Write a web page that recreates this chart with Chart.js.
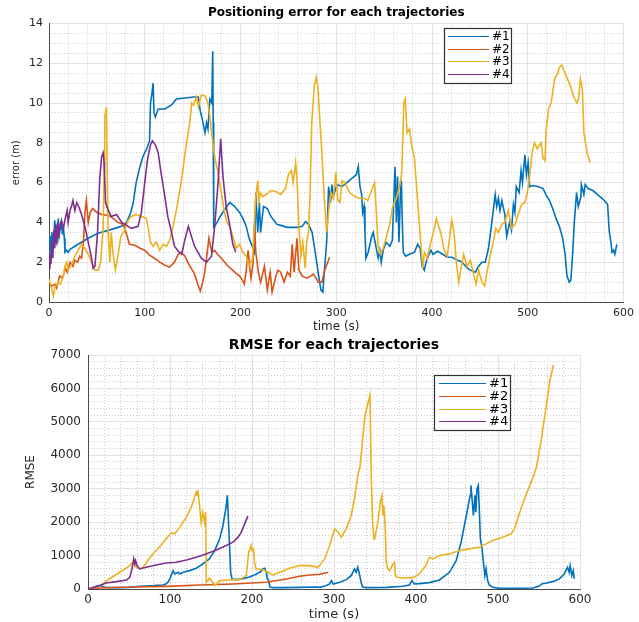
<!DOCTYPE html>
<html>
<head>
<meta charset="utf-8">
<title>Positioning error and RMSE for each trajectory</title>
<script src="https://cdn.jsdelivr.net/npm/chart.js@4.4.1/dist/chart.umd.min.js"></script>
<style>
  body { margin: 0; background: #fff; }
  canvas { display: block; }
</style>
</head>
<body>
<canvas id="errChart" width="639" height="336"></canvas>
<canvas id="rmseChart" width="639" height="286"></canvas>
<script>
'use strict';

const labels = ['#1', '#2', '#3', '#4'];
const colors = ['#0072BD', '#D95319', '#EDB120', '#7E2F8E'];

const timeTicks = [0, 100, 200, 300, 400, 500, 600];
const errTicks = [0, 2, 4, 6, 8, 10, 12, 14];
const rmseTicks = [0, 1000, 2000, 3000, 4000, 5000, 6000, 7000];

// positioning error [time (s), error (m)]
const err1 = [[0,2.2],[1,3.3],[2,2.6],[3,3.5],[4.5,2.6],[6,4.1],[7,3.2],[8,3.0],[9.7,4.2],[10.5,3.3],[11.5,3.6],[13,4.0],[14,3.4],[15,3.8],[16,3.2],[16.7,2.5],[18.4,2.6],[20,2.5],[22,2.65],[27,2.8],[34,3.0],[41,3.2],[51,3.45],[62,3.6],[72,3.75],[78,3.85],[81,4.0],[85.4,4.5],[88,5.0],[91,6.0],[95,6.8],[98,7.3],[102,7.7],[105,8.1],[106,10.0],[107.6,10.5],[108.7,11.0],[109.7,9.5],[111,9.3],[114,9.7],[121,9.7],[128,9.9],[133,10.2],[142,10.25],[151,10.3],[156,10.3],[158,9.6],[160,9.2],[162.9,8.5],[164.6,9.0],[166,8.7],[168,10.2],[170,10.0],[171,12.6],[171.5,9.0],[172,3.75],[173,3.8],[176.6,4.1],[180,4.4],[185,4.75],[188.7,5.0],[194,4.8],[199,4.5],[202.5,4.2],[206,3.8],[209,3.2],[213,2.7],[214.5,2.5],[216,5.5],[218,3.5],[219.7,5.0],[221,3.5],[224,4.8],[228,4.7],[231.7,4.3],[235,4.1],[238,3.9],[242,3.85],[249,3.75],[259,3.75],[264.5,3.8],[268,4.05],[271,3.9],[274.8,3.5],[278,2.5],[281.7,1.3],[284,0.6],[286,0.5],[287.5,1.5],[290,3.0],[292,5.8],[294,5.0],[295.5,5.9],[297,5.3],[300.7,5.9],[306,5.8],[311,6.0],[316,6.2],[321,6.4],[323,6.8],[324.8,5.8],[326.5,5.4],[327.6,4.5],[329,4.8],[330,3.5],[331,2.2],[333.4,2.5],[337,3.3],[338.6,3.5],[341,2.9],[343.8,2.2],[345.5,2.6],[347,2.0],[349,2.6],[352,3.0],[355.9,2.8],[358.6,3.1],[360,5.0],[361.4,6.8],[362.8,4.0],[364,6.3],[365.5,3.0],[367,5.5],[368,6.1],[369,4.0],[370,2.5],[372.4,2.3],[376.6,2.4],[381.7,2.5],[385,2.9],[387.6,2.7],[389.7,1.8],[392,1.6],[393.8,2.0],[397,2.4],[399,2.6],[401,2.4],[406,2.55],[411,2.4],[416,2.25],[421,2.25],[426.6,2.1],[430,2.05],[433.4,1.9],[437,1.7],[440,1.6],[445.5,1.5],[448,1.75],[452,2.0],[455.6,2.0],[459,2.7],[462.5,4.0],[464,4.6],[466,5.4],[467.6,4.8],[469.4,5.2],[471,4.6],[473,5.1],[476,4.4],[478,3.3],[481,4.0],[483,3.6],[485,4.9],[486.6,4.5],[488,5.8],[491,5.5],[493,6.6],[494.5,6.0],[497,7.4],[498.6,6.4],[500.4,7.0],[502,5.8],[505.5,5.85],[510.5,5.8],[516,5.7],[519,5.4],[522.7,5.1],[526,4.7],[529.5,4.2],[533,3.8],[536.5,3.2],[539,2.4],[541,1.3],[543.4,1.0],[545,1.1],[547,2.5],[548.6,4.0],[551,5.5],[552.8,4.8],[555.5,5.3],[556,5.9],[558.6,5.4],[560,5.9],[563,5.7],[568,5.6],[573,5.4],[580,5.1],[583.4,4.9],[585,3.6],[586.9,3.0],[588,2.5],[589.6,2.6],[591,2.4],[593,2.9]];
const err2 = [[0,1.0],[1,1.0],[3,0.8],[6,0.9],[8,0.7],[11,1.3],[14,1.2],[17,1.7],[19,1.5],[22,2.0],[25,1.8],[27,2.1],[30,2.0],[32,2.3],[34,2.2],[36,3.0],[37.5,4.5],[39,5.1],[41,4.0],[43,4.5],[45.5,4.7],[50,4.5],[55,4.4],[62,4.35],[67,4.2],[72,4.0],[77.5,3.9],[81,3.4],[84,2.9],[89.5,2.85],[95,2.7],[100,2.6],[105,2.35],[110,2.2],[115.6,2.0],[121,1.85],[126,1.75],[131,2.0],[135,2.4],[138,2.5],[142,2.3],[147,1.8],[151,1.5],[153,1.25],[156,0.8],[158,0.55],[160,0.9],[162,1.3],[164,2.0],[167,3.2],[170,2.5],[173,2.6],[176,2.4],[180,2.2],[187,1.8],[194,1.5],[199,1.3],[202,1.1],[204,0.9],[206,1.6],[208,2.6],[210,1.6],[211,1.2],[213,1.9],[214.5,3.9],[216,2.5],[218.6,1.5],[221,1.0],[225,1.8],[228,0.6],[231,1.5],[233,0.5],[237,1.3],[239,1.6],[242,1.5],[245.5,1.0],[249,1.5],[252,1.3],[254,2.9],[256,1.5],[259,3.2],[261,1.6],[264.5,1.3],[269.5,1.2],[273,1.3],[276,1.4],[279,1.2],[281,1.0],[285,1.0],[288,1.6],[293,2.25]];
const err3 = [[0,1.15],[2,0.8],[4.5,0.3],[6,0.7],[9.7,1.0],[12,0.9],[15,1.3],[16.7,1.8],[18.4,2.0],[20,1.6],[23.6,1.9],[27,2.3],[30.5,2.6],[34,2.9],[37.5,2.7],[41,2.4],[44.4,2.0],[48,1.6],[51.4,1.6],[54,2.0],[56.6,3.8],[57.6,7.0],[58.3,9.3],[60,9.8],[61,6.0],[61.8,3.5],[63.5,2.0],[65,3.5],[67,2.4],[69.4,1.6],[72,2.3],[75,3.3],[79,3.6],[82.6,4.1],[86,4.3],[91,4.4],[96.5,4.3],[101.7,4.2],[104,3.6],[106,3.0],[108.7,2.8],[112,3.0],[115.6,2.6],[119,2.9],[122.6,2.8],[126,3.1],[129.5,3.8],[133,4.6],[138,6.0],[143,7.8],[147,9.0],[149,10.0],[151,9.9],[154,10.3],[156,9.8],[159,10.4],[163,10.35],[166,10.0],[168,9.3],[169.8,8.5],[173,7.3],[176.6,6.5],[180,5.5],[183.3,4.5],[186,4.0],[188.7,3.8],[192,3.3],[195.6,2.7],[199,2.9],[202.5,2.5],[206,2.3],[209,1.8],[212.7,2.2],[214.5,4.0],[216,5.3],[218,6.1],[219,5.0],[220.7,5.5],[223,5.3],[226.6,5.4],[231.7,5.6],[237,5.55],[242,5.4],[247,5.7],[250,6.4],[253,6.6],[255,6.0],[257.6,7.0],[259,6.2],[261,3.8],[263,2.3],[265,3.0],[267.6,1.7],[269,3.0],[271,3.5],[272.7,5.5],[274.4,9.0],[277,10.8],[279,11.3],[280.9,10.8],[283,9.0],[285,7.5],[286.8,5.8],[288.5,4.5],[290,3.5],[292,4.5],[294.4,5.5],[297,5.2],[299.6,6.5],[301.7,5.1],[304,5.0],[306,6.1],[309,6.0],[314,5.5],[319.5,5.3],[324.7,5.2],[330,5.2],[333,5.1],[336.8,5.6],[340,6.0],[341.9,4.5],[343.7,2.8],[346,2.4],[349,2.7],[352,3.2],[355.7,3.9],[359,4.8],[362.6,5.2],[366,5.8],[368.5,6.5],[370.5,10.0],[372,10.2],[374,8.5],[376.5,8.7],[379,7.8],[381.7,7.2],[384.3,5.5],[386.7,4.0],[389,2.5],[390.5,1.7],[392,2.5],[395,2.2],[398.8,3.0],[402,3.6],[404.5,4.2],[409,3.5],[412.7,2.6],[416,2.3],[419,3.5],[420.5,4.1],[423,3.5],[425.6,1.9],[428,1.0],[429.7,1.5],[433,2.4],[436.6,1.8],[440,2.1],[443.4,1.4],[446,0.9],[448.8,1.6],[452,1.0],[455,0.8],[457.4,1.5],[461,2.4],[464,3.0],[466.5,3.7],[469.4,3.5],[473,3.9],[476,4.0],[479.6,4.6],[483,3.7],[486.6,3.9],[490,4.4],[493.5,4.9],[497,5.0],[499.6,5.5],[502,6.3],[504.5,7.5],[507,8.0],[510,7.7],[512.5,7.9],[514,8.0],[516,7.2],[518,7.1],[519,8.5],[521.7,9.7],[524.4,10.0],[528,11.2],[531.4,11.5],[533,11.8],[535.5,11.9],[538,11.6],[541.6,11.2],[545,10.8],[548,10.3],[551.5,10.0],[553,10.2],[555,11.2],[557,10.7],[558.6,8.5],[562,7.5],[565,7.0]];
const err4 = [[0,1.7],[1,2.4],[2,1.9],[3,3.0],[4,2.2],[5,3.6],[6,2.7],[7,3.9],[8,2.9],[9,4.0],[10,3.2],[11,3.8],[13,4.1],[15,3.7],[17,4.2],[19,4.6],[20,4.0],[22,4.6],[24,4.9],[25,5.1],[27,4.6],[29,5.0],[31,4.8],[34,4.4],[37.5,3.8],[41,3.0],[44.5,2.2],[46,1.7],[48,1.8],[50.7,3.5],[53,6.2],[55,7.3],[56.6,7.5],[57.5,7.0],[58,6.5],[59,5.0],[62,4.6],[65,4.3],[70.5,4.4],[76,4.0],[81,3.85],[86,3.7],[93,3.8],[96.5,4.5],[100,6.0],[103,7.2],[106,7.9],[108,8.1],[111,7.9],[114,7.5],[117,6.5],[121,5.3],[124,4.3],[128,3.5],[131,2.8],[135,2.55],[138.6,2.4],[141.7,3.1],[145.5,3.8],[152,2.8],[159,2.2],[164.5,2.0],[169.7,2.3],[173,3.8],[176.6,6.0],[179.3,8.2],[181.7,6.3],[185,4.8],[188.6,3.9],[192,2.9],[195,2.5]];

// RMSE [time (s), RMSE]
const rmse1 = [[0,0],[5,40],[10,80],[14,110],[17,90],[20,50],[25,40],[35,40],[50,50],[63,80],[80,100],[91,120],[95,150],[97.5,200],[100,320],[101.6,420],[103.7,550],[105.7,450],[108,480],[110,500],[111.8,450],[116,500],[124,550],[132,620],[140,750],[148,900],[154.5,1150],[160.6,1500],[164.6,1900],[168,2400],[170,2800],[171,2200],[172.8,1200],[174,500],[175.6,300],[181,280],[189,310],[197,360],[205,440],[211,530],[213,600],[215.4,620],[216.5,550],[217.5,500],[218.7,300],[220,280],[222,60],[225.6,40],[238,40],[258,50],[278,60],[283,50],[290,100],[294.7,150],[297,250],[299,150],[307,200],[315,280],[321,400],[325,600],[327,500],[329,650],[331,450],[333,200],[335,60],[339,40],[364,50],[384,80],[392,120],[395,250],[398,150],[404,160],[416,190],[428.6,270],[440.8,500],[449,850],[455,1400],[459,1900],[463,2400],[466,2800],[467,3100],[469,2500],[470,2200],[472,2800],[473,2300],[474.4,3000],[476,3100],[477.3,2300],[478.5,1500],[480,1300],[481,1100],[482.6,700],[484,400],[485.4,600],[487.4,250],[489.4,120],[493.5,50],[501.6,20],[526,20],[542,30],[550,80],[554,160],[558,170],[566.5,220],[574.6,300],[580.7,450],[584.8,650],[586.8,500],[588,700],[590,400],[591.7,550],[593,300]];
const rmse2 = [[0,0],[14,30],[55,60],[95,80],[136,120],[177,150],[217,200],[242,300],[258,380],[270,420],[283,440],[293,500]];
const rmse3 = [[0,0],[14,80],[26,300],[38.6,500],[51,700],[55,800],[59,650],[63,600],[67,650],[73,850],[79,1050],[87,1250],[95.5,1500],[101.6,1680],[105.7,1650],[112,1850],[120,2150],[126,2450],[130,2750],[132,2900],[133,2800],[134,2950],[136,2500],[138,2000],[140,2300],[142,2000],[143.5,2300],[144.3,200],[146.3,250],[148,330],[150,250],[152,200],[154.5,100],[160.6,250],[172.8,270],[185,280],[193,400],[196,1100],[199,1300],[200,1150],[202,1200],[203,800],[205,600],[213,580],[219.5,500],[225.6,420],[233.7,500],[246,620],[258,700],[270,700],[280.5,650],[282.5,700],[288.6,900],[294.7,1300],[300.8,1800],[305,1700],[309,1550],[315,1800],[321,2200],[325,2700],[329,3400],[331.7,3650],[337.8,5200],[341.9,5600],[343.9,5800],[345.4,3450],[347,2000],[348.7,1500],[349.5,1500],[353.5,2000],[356.4,2600],[358.4,2800],[359.6,2200],[360.8,2500],[362.5,1800],[363.7,800],[365.7,600],[367.7,550],[371,700],[373.8,800],[375,400],[376.7,350],[384,330],[396,340],[404,450],[412,700],[416.4,950],[420.5,900],[428.6,1000],[440.8,1050],[453,1150],[465,1200],[477.3,1250],[485.4,1350],[493.5,1450],[505.7,1550],[516,1650],[520,1800],[524,2100],[528,2400],[534,2800],[542,3300],[547,3650],[553,4500],[559,5500],[563,6200],[567.5,6700]];
const rmse4 = [[0,0],[14,100],[22,180],[34.5,220],[47,270],[51,350],[53.7,600],[55.7,900],[57,750],[58,850],[59.8,700],[63,600],[71,650],[83,720],[95.5,780],[107.7,800],[120,870],[132,950],[144,1050],[156.5,1170],[168.7,1300],[176.8,1400],[183,1550],[187,1700],[191,1950],[195,2180]];

const FONT = 'DejaVu Sans';
const TEXT = '#262626';

// legend drawn as a framed box inside the plot area
const boxLegend = {
    id: 'boxLegend',
    afterDraw(chart, args, opts) {
        const ctx = chart.ctx;
        const x = chart.chartArea.left + opts.dx;
        const y = chart.chartArea.top + opts.dy;
        ctx.save();
        ctx.fillStyle = '#fff';
        ctx.fillRect(x, y, opts.w, opts.h);
        ctx.strokeStyle = '#303030';
        ctx.lineWidth = 1.2;
        ctx.strokeRect(Math.round(x) + 0.5, Math.round(y) + 0.5, opts.w, opts.h);
        ctx.font = opts.size + 'px "' + FONT + '"';
        ctx.textBaseline = 'middle';
        ctx.fillStyle = '#000';
        chart.data.datasets.forEach((ds, i) => {
            const rowY = Math.round(y + opts.first + i * opts.row) + 0.5;
            ctx.strokeStyle = ds.borderColor;
            ctx.lineWidth = 1;
            ctx.beginPath();
            ctx.moveTo(x + opts.lineX, rowY);
            ctx.lineTo(x + opts.lineX + opts.lineLen, rowY);
            ctx.stroke();
            ctx.fillText(ds.label, x + opts.textX, rowY);
        });
        ctx.restore();
    }
};

function makeDatasets(series) {
    return series.map((data, i) => ({
        label: labels[i],
        data: data,
        borderColor: colors[i],
        borderWidth: 1.6,
        pointRadius: 0,
        fill: false,
        tension: 0,
        order: series.length - i
    }));
}

function fixed(size) {
    return (scale) => {
        if (scale.isHorizontal()) scale.height = size; else scale.width = size;
    };
}

function minorAxis(position, max, step) {
    return {
        type: 'linear',
        position: position,
        min: 0,
        max: max,
        ticks: { display: false, stepSize: step },
        grid: { color: '#cdcdcd', lineWidth: 1, drawTicks: false },
        border: { display: false, dash: [1, 2] },
        afterFit: fixed(0)
    };
}

function makeChart(id, cfg) {
    return new Chart(document.getElementById(id), {
        type: 'line',
        data: { datasets: makeDatasets(cfg.series) },
        options: {
            responsive: false,
            animation: false,
            devicePixelRatio: 1,
            layout: { autoPadding: false, padding: { left: 0, right: cfg.padRight, top: 0, bottom: 0 } },
            plugins: {
                legend: { display: false },
                tooltip: { enabled: false },
                title: {
                    display: true,
                    text: cfg.title,
                    fullSize: false,
                    color: '#000',
                    font: { family: FONT, size: cfg.titleSize, weight: 'bold' },
                    padding: cfg.titlePad
                },
                boxLegend: cfg.legend
            },
            scales: {
                xMinor: minorAxis('bottom', 600, 20),
                yMinor: minorAxis('left', cfg.yMax, cfg.yMinorStep),
                x: {
                    type: 'linear',
                    position: 'bottom',
                    min: 0,
                    max: 600,
                    afterBuildTicks: (s) => { s.ticks = timeTicks.map(v => ({ value: v })); },
                    ticks: { color: TEXT, padding: cfg.xTickPad, font: { family: FONT, size: cfg.tickSize }, callback: (v) => String(v) },
                    grid: { color: '#e2e2e2', drawTicks: false },
                    border: { color: '#4a4a4a', width: 1 },
                    title: { display: true, text: 'time (s)', color: TEXT, font: { family: FONT, size: cfg.xTitleSize }, padding: { top: 0, bottom: cfg.xTitlePad } },
                    afterFit: fixed(cfg.xHeight)
                },
                y: {
                    type: 'linear',
                    position: 'left',
                    min: 0,
                    max: cfg.yMax,
                    afterBuildTicks: (s) => { s.ticks = cfg.yTicks.map(v => ({ value: v })); },
                    ticks: { color: TEXT, padding: cfg.yTickPad, font: { family: FONT, size: cfg.tickSize }, callback: (v) => String(v) },
                    grid: { color: '#e2e2e2', drawTicks: false },
                    border: { color: '#4a4a4a', width: 1 },
                    title: { display: true, text: cfg.yTitle, color: TEXT, font: { family: FONT, size: cfg.yTitleSize }, padding: { top: cfg.yTitlePad, bottom: 0 } },
                    afterFit: fixed(cfg.yWidth)
                }
            }
        },
        plugins: [boxLegend]
    });
}

makeChart('errChart', {
    series: [err1, err2, err3, err4],
    title: 'Positioning error for each trajectories',
    titleSize: 12,
    titlePad: { top: 6, bottom: 3 },
    padRight: 10,
    yMax: 14,
    yMinorStep: 0.5,
    yTicks: errTicks,
    yTitle: 'error (m)',
    yTitleSize: 10,
    yTitlePad: 10,
    yWidth: 49,
    yTickPad: 6,
    xHeight: 34,
    xTickPad: 5,
    xTitleSize: 12,
    xTitlePad: 2,
    tickSize: 11,
    legend: { dx: 395, dy: 4.6, w: 67, h: 55, first: 8, row: 12.7, lineX: 4, lineLen: 41, textX: 48, size: 12 }
});

makeChart('rmseChart', {
    series: [rmse1, rmse2, rmse3, rmse4],
    title: 'RMSE for each trajectories',
    titleSize: 14,
    titlePad: { top: 1, bottom: 1.2 },
    padRight: 59,
    yMax: 7000,
    yMinorStep: 200,
    yTicks: rmseTicks,
    yTitle: 'RMSE',
    yTitleSize: 12,
    yTitlePad: 24,
    yWidth: 88,
    yTickPad: 7,
    xHeight: 33,
    xTickPad: 4,
    xTitleSize: 13,
    xTitlePad: 0,
    tickSize: 12,
    legend: { dx: 346, dy: 20, w: 76, h: 55, first: 8, row: 12.8, lineX: 5, lineLen: 47, textX: 55, size: 13 }
});
</script>
</body>
</html>
